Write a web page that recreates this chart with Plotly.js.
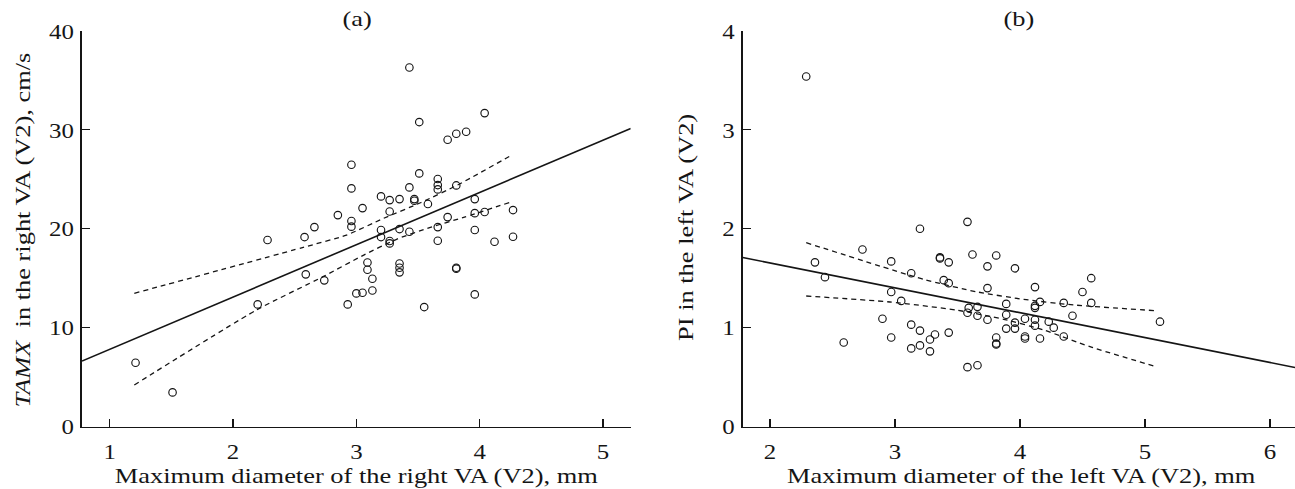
<!DOCTYPE html>
<html>
<head>
<meta charset="utf-8">
<script src="https://cdn.plot.ly/plotly-3.0.1.min.js"></script>
<style>
  html, body { margin: 0; padding: 0; background: #ffffff; }
  #chart { width: 1295px; height: 489px; }
</style>
</head>
<body>
<div id="chart"></div>
<script>
// ---------- Panel (a): right VA ----------
const aDiameter = [1.21,1.51,2.20,2.28,2.58,2.59,2.66,2.74,2.85,2.93,2.96,2.96,2.96,2.96,3.00,3.05,3.05,3.09,3.09,3.13,3.13,3.20,3.20,3.20,3.27,3.27,3.27,3.27,3.35,3.35,3.35,3.35,3.35,3.43,3.43,3.43,3.47,3.47,3.51,3.51,3.55,3.58,3.66,3.66,3.66,3.66,3.66,3.74,3.74,3.81,3.81,3.81,3.81,3.89,3.96,3.96,3.96,3.96,4.04,4.04,4.12,4.27,4.27];
const aTAMX = [6.45,3.45,12.35,18.86,19.16,15.39,20.17,14.78,21.38,12.35,26.47,24.08,20.78,20.21,13.46,13.53,22.09,16.59,15.85,14.94,13.76,23.27,19.87,19.16,22.90,21.75,18.76,18.52,23.00,19.97,16.49,16.06,15.59,36.31,24.18,19.70,23.00,22.83,30.79,25.60,12.08,22.50,25.03,24.42,23.98,20.17,18.79,29.00,21.18,29.61,24.38,16.06,15.96,29.81,23.00,21.58,19.87,13.36,31.70,21.69,18.69,21.89,19.19];
const aFitX = [0.776, 5.224];
const aFitY = [6.62, 30.15];
const aUpperX = [1.20, 2.57, 2.92, 3.22, 3.52, 3.82, 4.26];
const aUpperY = [13.47, 18.12, 19.36, 21.05, 22.63, 24.42, 27.45];
const aLowerX = [1.20, 2.19, 2.73, 3.06, 3.33, 3.60, 3.87, 4.26];
const aLowerY = [4.20, 11.78, 15.15, 17.34, 18.96, 20.14, 21.15, 22.73];
const aXTicks = [1, 2, 3, 4, 5];
const aYTicks = [0, 10, 20, 30, 40];

// ---------- Panel (b): left VA ----------
const bDiameter = [2.29,2.36,2.44,2.59,2.74,2.90,2.97,2.97,2.97,3.05,3.13,3.13,3.13,3.20,3.20,3.20,3.28,3.28,3.32,3.36,3.36,3.39,3.43,3.43,3.43,3.58,3.58,3.58,3.59,3.62,3.66,3.66,3.66,3.74,3.74,3.74,3.81,3.81,3.81,3.81,3.89,3.89,3.89,3.96,3.96,3.96,4.04,4.04,4.04,4.12,4.12,4.12,4.12,4.12,4.16,4.16,4.23,4.27,4.35,4.35,4.42,4.50,4.57,4.57,5.12];
const bPI = [3.54,1.66,1.51,0.85,1.79,1.09,1.67,1.36,0.90,1.27,1.55,1.03,0.79,2.00,0.97,0.82,0.88,0.76,0.93,1.70,1.71,1.48,1.66,1.45,0.95,2.07,1.15,0.60,1.20,1.74,1.21,1.12,0.62,1.62,1.40,1.08,1.73,0.90,0.84,0.83,1.24,1.13,0.99,1.60,1.05,0.99,1.09,0.91,0.89,1.41,1.22,1.20,1.08,1.02,1.26,0.89,1.06,1.00,1.25,0.91,1.12,1.36,1.50,1.25,1.06];
const bFitX = [1.782, 6.2];
const bFitY = [1.709, 0.597];
const bUpperX = [2.29, 3.23, 3.65, 4.03, 4.43, 5.09];
const bUpperY = [1.859, 1.488, 1.363, 1.286, 1.229, 1.171];
const bLowerX = [2.29, 2.96, 3.49, 3.87, 4.19, 4.56, 5.09];
const bLowerY = [1.320, 1.259, 1.178, 1.084, 0.976, 0.807, 0.605];
const bXTicks = [2, 3, 4, 5, 6];
const bYTicks = [0, 1, 2, 3, 4];

const INK = '#151515';
const FONT = '"Liberation Serif", "Times New Roman", serif';
const FS = 22;

const marker = { symbol: 'circle-open', size: 7.5, color: INK, line: { width: 1.15, color: INK } };
const fitLine = { color: INK, width: 1.6 };
const ciLine = { color: INK, width: 1.3, dash: '5px,4px', shape: 'spline', smoothing: 0.6 };

const traces = [
  { x: aDiameter, y: aTAMX, type: 'scatter', mode: 'markers', marker: marker, xaxis: 'x', yaxis: 'y' },
  { x: aFitX, y: aFitY, type: 'scatter', mode: 'lines', line: fitLine, xaxis: 'x', yaxis: 'y' },
  { x: aUpperX, y: aUpperY, type: 'scatter', mode: 'lines', line: ciLine, xaxis: 'x', yaxis: 'y' },
  { x: aLowerX, y: aLowerY, type: 'scatter', mode: 'lines', line: ciLine, xaxis: 'x', yaxis: 'y' },
  { x: bDiameter, y: bPI, type: 'scatter', mode: 'markers', marker: marker, xaxis: 'x2', yaxis: 'y2' },
  { x: bFitX, y: bFitY, type: 'scatter', mode: 'lines', line: fitLine, xaxis: 'x2', yaxis: 'y2' },
  { x: bUpperX, y: bUpperY, type: 'scatter', mode: 'lines', line: ciLine, xaxis: 'x2', yaxis: 'y2' },
  { x: bLowerX, y: bLowerY, type: 'scatter', mode: 'lines', line: ciLine, xaxis: 'x2', yaxis: 'y2' }
];

const W = 1295, H = 489;
const px = v => v / W;
const py = v => 1 - v / H;

function axisBase(extra) {
  return Object.assign({
    showline: true, linecolor: INK, linewidth: 1.6,
    ticks: 'inside', ticklen: 8, tickwidth: 1.2, tickcolor: INK,
    showgrid: false, zeroline: false, automargin: false, fixedrange: true,
    tickfont: { family: FONT, size: FS, color: INK },
    mirror: false
  }, extra);
}

const yDom = [py(426.5), py(31)];
const annFont = { family: FONT, size: FS, color: INK };

const layout = {
  width: W, height: H,
  margin: { l: 0, r: 0, t: 0, b: 0, pad: 0 },
  paper_bgcolor: '#ffffff', plot_bgcolor: '#ffffff',
  showlegend: false,
  font: { family: FONT, size: FS, color: INK },
  xaxis: axisBase({ domain: [px(82), px(630.7)], range: [0.776, 5.224], tickmode: 'array', tickvals: aXTicks, ticktext: aXTicks.map(String), anchor: 'y', ticklabelstandoff: 4 }),
  yaxis: axisBase({ domain: yDom, range: [0, 40], tickmode: 'array', tickvals: aYTicks, ticktext: aYTicks.map(String), anchor: 'x', ticklabelstandoff: 2 }),
  xaxis2: axisBase({ domain: [px(742.7), 1], range: [1.782, 6.2], tickmode: 'array', tickvals: bXTicks, ticktext: bXTicks.map(String), anchor: 'y2', ticklabelstandoff: 4 }),
  yaxis2: axisBase({ domain: yDom, range: [0, 4], tickmode: 'array', tickvals: bYTicks, ticktext: bYTicks.map(String), anchor: 'x2', ticklabelstandoff: 2 }),
  annotations: [
    { text: '(a)', xref: 'paper', yref: 'paper', x: px(356.5), y: py(19), xanchor: 'center', yanchor: 'middle', showarrow: false, font: annFont },
    { text: '(b)', xref: 'paper', yref: 'paper', x: px(1019), y: py(19), xanchor: 'center', yanchor: 'middle', showarrow: false, font: annFont },
    { text: 'Maximum diameter of the right VA (V2), mm', xref: 'paper', yref: 'paper', x: px(356), y: py(475), xanchor: 'center', yanchor: 'middle', showarrow: false, font: annFont },
    { text: 'Maximum diameter of the left VA (V2), mm', xref: 'paper', yref: 'paper', x: px(1021), y: py(475), xanchor: 'center', yanchor: 'middle', showarrow: false, font: annFont },
    { text: '<i>TAMX</i>  in the right VA (V2), cm/s', xref: 'paper', yref: 'paper', x: px(22), y: py(230), xanchor: 'center', yanchor: 'middle', textangle: -90, showarrow: false, font: annFont },
    { text: 'PI in the left VA (V2)', xref: 'paper', yref: 'paper', x: px(685), y: py(228), xanchor: 'center', yanchor: 'middle', textangle: -90, showarrow: false, font: annFont }
  ]
};

function stretch(root, sel, f) {
  root.querySelectorAll(sel).forEach(t => {
    const L = t.getComputedTextLength();
    if (L > 0) {
      t.setAttribute('textLength', (L * f).toFixed(2));
      t.setAttribute('lengthAdjust', 'spacingAndGlyphs');
    }
  });
}

Plotly.newPlot('chart', traces, layout, { staticPlot: true, displayModeBar: false }).then(gd => {
  stretch(gd, '.xtick text, .ytick text, .x2tick text, .y2tick text', 1.13);
  stretch(gd, 'text.annotation-text', 1.2);
});
</script>
</body>
</html>
